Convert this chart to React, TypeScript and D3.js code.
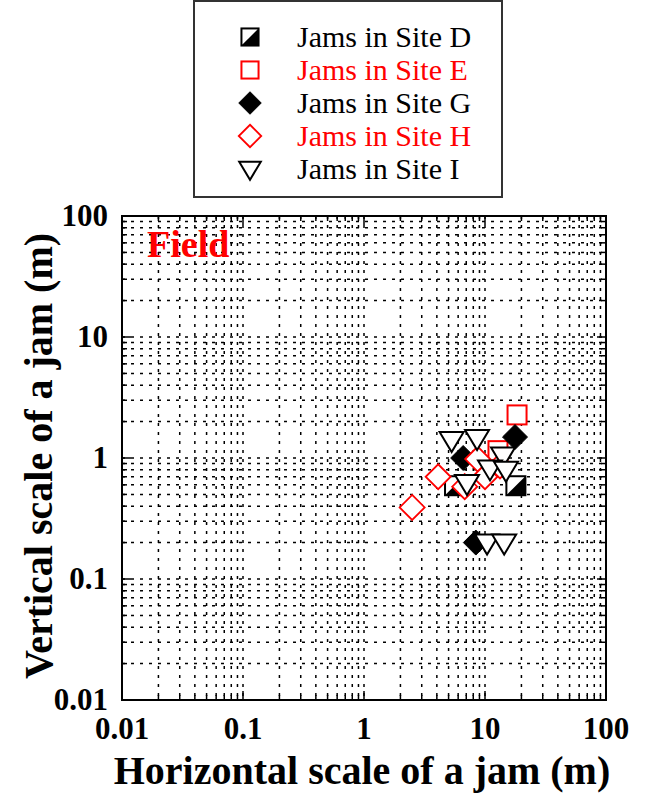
import React from "react";
import * as d3 from "d3";

// Horizontal / vertical scale of wood jams (m), per field site
const siteD = [
  { x: 5.6, y: 0.59 },
  { x: 18.0, y: 0.59 },
];
const siteE = [
  { x: 18.4, y: 2.27 },
  { x: 12.8, y: 1.15 },
];
const siteG = [
  { x: 8.4, y: 0.2 },
  { x: 6.6, y: 1.0 },
  { x: 17.7, y: 1.49 },
];
const siteH = [
  { x: 2.5, y: 0.39 },
  { x: 4.1, y: 0.7 },
  { x: 6.8, y: 0.58 },
  { x: 8.7, y: 0.98 },
  { x: 10.0, y: 0.7 },
  { x: 13.3, y: 0.86 },
];
const siteI = [
  { x: 5.3, y: 1.41 },
  { x: 8.6, y: 1.46 },
  { x: 14.1, y: 1.05 },
  { x: 11.0, y: 0.82 },
  { x: 14.9, y: 0.8 },
  { x: 7.1, y: 0.62 },
  { x: 10.4, y: 0.2 },
  { x: 14.4, y: 0.2 },
];

const legendLabels = [
  "Jams in Site D",
  "Jams in Site E",
  "Jams in Site G",
  "Jams in Site H",
  "Jams in Site I",
];
const legendColors = ["#000", "#ff0000", "#000", "#ff0000", "#000"];
const majorTicks = [0.01, 0.1, 1, 10, 100];
const tickLabels = ["0.01", "0.1", "1", "10", "100"];

const serif = "'Liberation Serif', 'DejaVu Serif', serif";

type Kind = "halfSquare" | "square" | "diamond" | "openDiamond" | "triangle";

function Marker({ kind, cx, cy, color, k = 1 }: { kind: Kind; cx: number; cy: number; color: string; k?: number }) {
  if (kind === "halfSquare" || kind === "square") {
    const s = 9.5 * k;
    return (
      <g>
        <rect x={cx - s} y={cy - s} width={2 * s} height={2 * s} fill="#fff" stroke={color} strokeWidth={2} />
        {kind === "halfSquare" && (
          <path d={`M${cx - s},${cy + s}L${cx + s},${cy - s}L${cx + s},${cy + s}Z`} fill={color} />
        )}
      </g>
    );
  }
  if (kind === "diamond" || kind === "openDiamond") {
    const r = 12.5 * k;
    return (
      <path
        d={`M${cx},${cy - r}L${cx + r},${cy}L${cx},${cy + r}L${cx - r},${cy}Z`}
        fill={kind === "diamond" ? color : "#fff"}
        stroke={color}
        strokeWidth={kind === "diamond" ? 1 : 1.8}
      />
    );
  }
  const w = 12 * k;
  return (
    <path
      d={`M${cx - w},${cy - 8 * k}L${cx + w},${cy - 8 * k}L${cx},${cy + 12 * k}Z`}
      fill="#fff"
      stroke={color}
      strokeWidth={2}
    />
  );
}

export default function App() {
  const W = 648;
  const H = 793;
  const left = 122,
    right = 606,
    top = 216,
    bottom = 700;

  const x = d3.scaleLog().domain([0.01, 100]).range([left, right]);
  const y = d3.scaleLog().domain([0.01, 100]).range([bottom, top]);

  const minor: number[] = [];
  for (let e = -2; e < 2; e++) for (let m = 2; m <= 9; m++) minor.push(m * Math.pow(10, e));
  const gridVals = [...minor, 0.1, 1, 10];

  const series: { data: { x: number; y: number }[]; kind: Kind; color: string }[] = [
    { data: siteD, kind: "halfSquare", color: "#000" },
    { data: siteE, kind: "square", color: "#ff0000" },
    { data: siteG, kind: "diamond", color: "#000" },
    { data: siteH, kind: "openDiamond", color: "#ff0000" },
    { data: siteI, kind: "triangle", color: "#000" },
  ];

  const legendKinds: Kind[] = ["halfSquare", "square", "diamond", "openDiamond", "triangle"];

  return (
    <svg width={W} height={H} style={{ display: "block", position: "absolute", left: 0, top: 0 }}>
      <rect width={W} height={H} fill="#fff" />

      {/* dotted grid at every decade and sub-decade */}
      <g stroke="#000" strokeWidth={1.5} strokeDasharray="3,6">
        {gridVals.map((v, i) => (
          <line key={"gx" + i} x1={x(v)} x2={x(v)} y1={top} y2={bottom} />
        ))}
        {gridVals.map((v, i) => (
          <line key={"gy" + i} x1={left} x2={right} y1={y(v)} y2={y(v)} />
        ))}
      </g>

      {/* inward ticks on all four sides */}
      <g stroke="#000" strokeWidth={1.5}>
        {majorTicks.map((v, i) => (
          <g key={"mt" + i}>
            <line x1={x(v)} x2={x(v)} y1={bottom} y2={bottom - 9} />
            <line x1={x(v)} x2={x(v)} y1={top} y2={top + 9} />
            <line x1={left} x2={left + 9} y1={y(v)} y2={y(v)} />
            <line x1={right} x2={right - 9} y1={y(v)} y2={y(v)} />
          </g>
        ))}
        {minor.map((v, i) => (
          <g key={"nt" + i}>
            <line x1={x(v)} x2={x(v)} y1={bottom} y2={bottom - 5} />
            <line x1={x(v)} x2={x(v)} y1={top} y2={top + 5} />
            <line x1={left} x2={left + 5} y1={y(v)} y2={y(v)} />
            <line x1={right} x2={right - 5} y1={y(v)} y2={y(v)} />
          </g>
        ))}
      </g>

      <text x={147} y={257} fill="#ff0000" fontFamily={serif} fontWeight="bold" fontSize={38}>
        Field
      </text>

      {series.map((s, si) =>
        s.data.map((d, i) => (
          <Marker key={si + "-" + i} kind={s.kind} cx={x(d.x)} cy={y(d.y)} color={s.color} />
        ))
      )}

      <rect x={left} y={top} width={right - left} height={bottom - top} fill="none" stroke="#000" strokeWidth={2} />

      {/* tick labels */}
      <g fontFamily={serif} fontWeight="bold" fontSize={31} fill="#000">
        {majorTicks.map((v, i) => (
          <text key={"xl" + i} x={x(v)} y={739} textAnchor="middle">
            {tickLabels[i]}
          </text>
        ))}
        {majorTicks.map((v, i) => (
          <text key={"yl" + i} x={108} y={y(v) + 10} textAnchor="end">
            {tickLabels[i]}
          </text>
        ))}
      </g>

      <text x={362} y={784} textAnchor="middle" fontFamily={serif} fontWeight="bold" fontSize={40}>
        Horizontal scale of a jam (m)
      </text>
      <text
        transform={`translate(52,${(top + bottom) / 2 - 2}) rotate(-90)`}
        textAnchor="middle"
        fontFamily={serif}
        fontWeight="bold"
        fontSize={40}
      >
        Vertical scale of a jam (m)
      </text>

      {/* legend */}
      <rect x={194} y={1} width={308} height={196} fill="#fff" stroke="#333" strokeWidth={2} />
      {legendLabels.map((lab, i) => {
        const cy = 37 + i * 33;
        return (
          <g key={"lg" + i}>
            <Marker kind={legendKinds[i]} cx={250} cy={cy} color={legendColors[i]} k={0.9} />
            <text x={297} y={cy + 10} fontFamily={serif} fontWeight="normal" fontSize={30} fill={legendColors[i]}>
              {lab}
            </text>
          </g>
        );
      })}
    </svg>
  );
}
